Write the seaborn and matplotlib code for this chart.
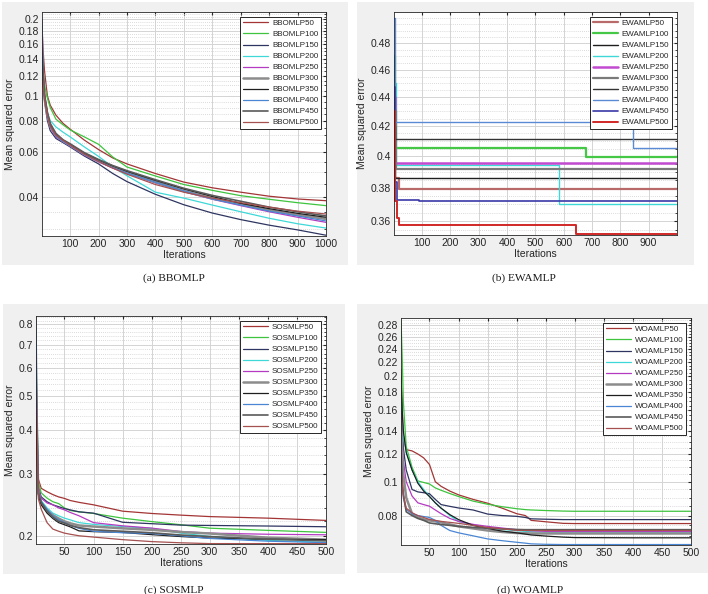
import matplotlib
matplotlib.use('Agg')
import matplotlib.pyplot as plt
from matplotlib.patches import Rectangle
from matplotlib.ticker import FixedLocator, NullFormatter, FuncFormatter
import seaborn as sns

sns.set_style('white')
plt.rcParams['font.family'] = ['Liberation Sans', 'DejaVu Sans']

sizes = [50, 100, 150, 200, 250, 300, 350, 400, 450, 500]

# (a) BBOMLP
bbo_x = [1, 5, 10, 20, 30, 50, 75, 100, 150, 200, 250, 300, 400, 500, 600, 700, 800, 900, 1000]
bbo_50 = [0.190, 0.150, 0.125, 0.100, 0.092, 0.084, 0.078, 0.0740, 0.0670, 0.0615, 0.0570, 0.0540, 0.0495, 0.0458, 0.0435, 0.0418, 0.0403, 0.0393, 0.0387]
bbo_100 = [0.140, 0.125, 0.110, 0.098, 0.090, 0.081, 0.077, 0.0735, 0.0690, 0.0645, 0.0575, 0.0525, 0.0484, 0.0448, 0.0425, 0.0405, 0.0392, 0.0380, 0.0370]
bbo_150 = [0.145, 0.115, 0.095, 0.080, 0.073, 0.068, 0.0655, 0.0630, 0.0580, 0.0540, 0.0495, 0.0460, 0.0410, 0.0373, 0.0346, 0.0326, 0.0310, 0.0297, 0.0283]
bbo_200 = [0.140, 0.118, 0.100, 0.086, 0.080, 0.0755, 0.072, 0.0690, 0.0630, 0.0578, 0.0525, 0.0485, 0.0418, 0.0396, 0.0372, 0.0350, 0.0330, 0.0314, 0.0302]
bbo_250 = [0.130, 0.112, 0.097, 0.083, 0.075, 0.0690, 0.0660, 0.0635, 0.0585, 0.0550, 0.0520, 0.0495, 0.0455, 0.0420, 0.0392, 0.0370, 0.0350, 0.0333, 0.0318]
bbo_300 = [0.150, 0.118, 0.098, 0.084, 0.076, 0.0700, 0.0665, 0.0640, 0.0590, 0.0555, 0.0525, 0.0500, 0.0458, 0.0422, 0.0395, 0.0375, 0.0355, 0.0340, 0.0328]
bbo_350 = [0.160, 0.120, 0.100, 0.085, 0.077, 0.0705, 0.0670, 0.0645, 0.0595, 0.0560, 0.0530, 0.0505, 0.0465, 0.0430, 0.0402, 0.0378, 0.0360, 0.0345, 0.0333]
bbo_400 = [0.200, 0.125, 0.100, 0.084, 0.076, 0.0695, 0.0662, 0.0638, 0.0588, 0.0553, 0.0522, 0.0497, 0.0457, 0.0423, 0.0393, 0.0372, 0.0352, 0.0337, 0.0322]
bbo_450 = [0.150, 0.122, 0.101, 0.086, 0.078, 0.0712, 0.0672, 0.0648, 0.0598, 0.0562, 0.0532, 0.0508, 0.0468, 0.0433, 0.0406, 0.0385, 0.0365, 0.0350, 0.0337]
bbo_500 = [0.120, 0.110, 0.098, 0.084, 0.076, 0.0700, 0.0668, 0.0640, 0.0590, 0.0552, 0.0520, 0.0492, 0.0448, 0.0418, 0.0396, 0.0380, 0.0365, 0.0352, 0.0343]

# (b) EWAMLP, step curves: change points and levels
ewa_50_x, ewa_50 = [1, 5, 18, 1000], [0.430, 0.386, 0.3795, 0.3795]
ewa_100_x, ewa_100 = [1, 5, 680, 1000], [0.470, 0.4055, 0.3995, 0.3995]
ewa_150_x, ewa_150 = [1, 6, 1000], [0.425, 0.386, 0.386]
ewa_200_x, ewa_200 = [1, 8, 585, 1000], [0.450, 0.3945, 0.3705, 0.3705]
ewa_250_x, ewa_250 = [1, 4, 1000], [0.440, 0.3955, 0.3955]
ewa_300_x, ewa_300 = [1, 8, 1000], [0.430, 0.392, 0.392]
ewa_350_x, ewa_350 = [1, 4, 1000], [0.420, 0.411, 0.411]
ewa_400_x, ewa_400 = [1, 3, 845, 1000], [0.500, 0.4225, 0.4055, 0.4055]
ewa_450_x, ewa_450 = [1, 5, 10, 90, 1000], [0.447, 0.384, 0.3725, 0.3718, 0.3718]
ewa_500_x, ewa_500 = [1, 5, 10, 18, 645, 1000], [0.430, 0.372, 0.362, 0.358, 0.3526, 0.3526]

# (c) SOSMLP
sos_x = [1, 5, 10, 20, 30, 40, 50, 60, 75, 100, 150, 200, 250, 300, 400, 500]
sos_50 = [0.60, 0.290, 0.273, 0.267, 0.262, 0.258, 0.2555, 0.252, 0.249, 0.245, 0.235, 0.2315, 0.229, 0.2268, 0.2245, 0.2212]
sos_100 = [0.70, 0.285, 0.265, 0.256, 0.250, 0.247, 0.240, 0.236, 0.234, 0.2315, 0.2245, 0.2195, 0.2150, 0.2102, 0.2072, 0.2045]
sos_150 = [0.55, 0.275, 0.258, 0.250, 0.245, 0.242, 0.239, 0.237, 0.234, 0.232, 0.2185, 0.2165, 0.2145, 0.2140, 0.2132, 0.2122]
sos_200 = [0.50, 0.270, 0.252, 0.240, 0.232, 0.228, 0.2245, 0.222, 0.218, 0.2155, 0.2125, 0.2100, 0.2035, 0.1992, 0.1940, 0.1915]
sos_250 = [0.52, 0.272, 0.256, 0.248, 0.245, 0.240, 0.237, 0.233, 0.228, 0.218, 0.2135, 0.2103, 0.2057, 0.2035, 0.2020, 0.2013]
sos_300 = [0.45, 0.265, 0.248, 0.236, 0.229, 0.224, 0.2198, 0.217, 0.214, 0.2125, 0.2100, 0.2080, 0.2050, 0.2030, 0.1975, 0.1950]
sos_350 = [0.48, 0.262, 0.245, 0.232, 0.224, 0.218, 0.2150, 0.212, 0.2065, 0.2055, 0.2044, 0.2015, 0.1990, 0.1970, 0.1955, 0.1950]
sos_400 = [0.84, 0.268, 0.250, 0.238, 0.228, 0.222, 0.2180, 0.214, 0.210, 0.2060, 0.2040, 0.2030, 0.2000, 0.1965, 0.1930, 0.1912]
sos_450 = [0.46, 0.266, 0.249, 0.235, 0.226, 0.220, 0.2173, 0.214, 0.211, 0.2080, 0.2060, 0.2040, 0.2010, 0.1990, 0.1955, 0.1935]
sos_500 = [0.65, 0.255, 0.238, 0.218, 0.209, 0.206, 0.2035, 0.2020, 0.2000, 0.1983, 0.1950, 0.1925, 0.1910, 0.1900, 0.1900, 0.1900]

# (d) WOAMLP
woa_x = [1, 3, 5, 10, 20, 30, 40, 50, 60, 70, 85, 100, 125, 150, 175, 200, 215, 225, 250, 280, 300, 400, 500]
woa_50 = [0.210, 0.160, 0.135, 0.1235, 0.1225, 0.120, 0.117, 0.112, 0.100, 0.097, 0.094, 0.0917, 0.089, 0.0868, 0.0840, 0.0810, 0.0800, 0.0775, 0.0768, 0.0760, 0.0759, 0.0759, 0.0759]
woa_100 = [0.290, 0.230, 0.170, 0.126, 0.110, 0.1005, 0.0995, 0.0985, 0.096, 0.0945, 0.0925, 0.0907, 0.0880, 0.0862, 0.0848, 0.0837, 0.0832, 0.0830, 0.0827, 0.0824, 0.0823, 0.0823, 0.0823]
woa_150 = [0.190, 0.150, 0.125, 0.108, 0.095, 0.0935, 0.0930, 0.0924, 0.0890, 0.0860, 0.0850, 0.0841, 0.0830, 0.0808, 0.0800, 0.0796, 0.0790, 0.0783, 0.0781, 0.0779, 0.0779, 0.0779, 0.0779]
woa_200 = [0.190, 0.150, 0.135, 0.122, 0.108, 0.100, 0.095, 0.0907, 0.0870, 0.0840, 0.0800, 0.0770, 0.0750, 0.0737, 0.0730, 0.0724, 0.0721, 0.0719, 0.0717, 0.0717, 0.0717, 0.0717, 0.0717]
woa_250 = [0.160, 0.130, 0.115, 0.100, 0.091, 0.0870, 0.0860, 0.0851, 0.0830, 0.0810, 0.0785, 0.0770, 0.0755, 0.0745, 0.0737, 0.0729, 0.0726, 0.0724, 0.0721, 0.0721, 0.0721, 0.0721, 0.0721]
woa_300 = [0.150, 0.120, 0.105, 0.090, 0.081, 0.0790, 0.0780, 0.0775, 0.0770, 0.0765, 0.0755, 0.0745, 0.0735, 0.0725, 0.0718, 0.0713, 0.0712, 0.0711, 0.0711, 0.0711, 0.0711, 0.0711, 0.0711]
woa_350 = [0.200, 0.160, 0.140, 0.121, 0.108, 0.099, 0.094, 0.0907, 0.0870, 0.0840, 0.0805, 0.0779, 0.0750, 0.0735, 0.0722, 0.0714, 0.0708, 0.0704, 0.0699, 0.0694, 0.0692, 0.0691, 0.0691]
woa_400 = [0.120, 0.100, 0.090, 0.0832, 0.0810, 0.0800, 0.0795, 0.0790, 0.0775, 0.0750, 0.0725, 0.0714, 0.0700, 0.0686, 0.0678, 0.0671, 0.0667, 0.0664, 0.0662, 0.0661, 0.0661, 0.0661, 0.0661]
woa_450 = [0.120, 0.100, 0.092, 0.0820, 0.0800, 0.0785, 0.0775, 0.0762, 0.0758, 0.0754, 0.0750, 0.0745, 0.0740, 0.0736, 0.0733, 0.0730, 0.0729, 0.0729, 0.0729, 0.0729, 0.0729, 0.0729, 0.0729]
woa_500 = [0.110, 0.100, 0.092, 0.0840, 0.0815, 0.0800, 0.0790, 0.0780, 0.0775, 0.0770, 0.0765, 0.0760, 0.0750, 0.0740, 0.0733, 0.0726, 0.0725, 0.0725, 0.0725, 0.0725, 0.0725, 0.0725, 0.0725]

colors = ['#a33535', '#3ec43e', '#2e3560', '#3fd8d8', '#b53ac2', '#8c8c8c', '#1e1e1e', '#4a86d4', '#5a5a5a', '#a65050']
widths = [0.9, 0.9, 0.9, 0.9, 0.9, 1.8, 0.9, 0.9, 1.2, 0.9]
colors_b = ['#b86a6a', '#45c845', '#1e1e1e', '#3fd8d8', '#c24ad0', '#7a7a7a', '#333333', '#5a8ad4', '#3a3aa8', '#d02828']
widths_b = [1.6, 1.6, 1.0, 1.0, 1.8, 1.6, 1.0, 1.0, 1.2, 1.4]

W, H = 708, 594
fig = plt.figure(figsize=(W / 100, H / 100), dpi=100)
fig.patch.set_facecolor('white')


def px_axes(l, t, r, b):
    return fig.add_axes([l / W, 1 - b / H, (r - l) / W, (b - t) / H])


for (l, t, r, b) in [(2, 2, 348, 265), (357, 2, 694, 265), (3, 304, 345, 574), (357, 304, 708, 573)]:
    fig.patches.append(Rectangle((l / W, 1 - b / H), (r - l) / W, (b - t) / H,
                                 transform=fig.transFigure, facecolor='#f0f0f0',
                                 edgecolor='none', zorder=-5))

ax_a = px_axes(42, 12, 326, 236)
ax_b = px_axes(394, 12, 677, 235)
ax_c = px_axes(36, 316, 326, 544)
ax_d = px_axes(401, 318, 691, 545)


def style(ax, xmax, xticks, ylim, yticks, yminor):
    ax.set_yscale('log')
    ax.set_facecolor('white')
    ax.set_xlim(1, xmax)
    ax.set_ylim(*ylim)
    ax.xaxis.set_major_locator(FixedLocator(xticks))
    ax.xaxis.set_minor_locator(FixedLocator([]))
    ax.yaxis.set_major_locator(FixedLocator(yticks))
    ax.yaxis.set_minor_locator(FixedLocator(yminor))
    ax.yaxis.set_major_formatter(FuncFormatter(lambda v, p: f'{v:g}'))
    ax.yaxis.set_minor_formatter(NullFormatter())
    ax.grid(True, which='major', color='#d4d4d4', lw=0.7, ls='-')
    ax.grid(True, which='minor', axis='y', color='#cfcfcf', lw=0.6, ls=(0, (1, 1.5)))
    ax.set_axisbelow(True)
    ax.tick_params(which='both', direction='in', length=2.5, top=True, right=True,
                   labelsize=7.5, colors='#262626', pad=2)
    ax.tick_params(which='minor', length=1.5)
    for s in ax.spines.values():
        s.set_color('#262626')
        s.set_linewidth(0.6)
    ax.set_xlabel('Iterations', fontsize=7.5, color='#262626', labelpad=1)
    ax.set_ylabel('Mean squared error', fontsize=7.5, color='#262626', labelpad=3)
    ax.legend(loc='upper right', fontsize=5.8, frameon=True, fancybox=False,
              edgecolor='#262626', framealpha=1, labelspacing=0.42,
              handlelength=3.1, handletextpad=0.5, borderpad=0.35,
              borderaxespad=0.6).get_frame().set_linewidth(0.7)


def minor(lo, hi, step):
    n = int(round((hi - lo) / step))
    return [round(lo + i * step, 4) for i in range(n + 1)]


series_a = [bbo_50, bbo_100, bbo_150, bbo_200, bbo_250, bbo_300, bbo_350, bbo_400, bbo_450, bbo_500]
for n, ys, c, w in zip(sizes, series_a, colors, widths):
    sns.lineplot(x=bbo_x, y=ys, ax=ax_a, color=c, lw=w, label=f'BBOMLP{n}')
style(ax_a, 1000, list(range(100, 1001, 100)), (0.0281, 0.214),
      [0.04, 0.06, 0.08, 0.1, 0.12, 0.14, 0.16, 0.18, 0.2], minor(0.03, 0.21, 0.005))

series_b = [(ewa_50_x, ewa_50), (ewa_100_x, ewa_100), (ewa_150_x, ewa_150), (ewa_200_x, ewa_200),
            (ewa_250_x, ewa_250), (ewa_300_x, ewa_300), (ewa_350_x, ewa_350), (ewa_400_x, ewa_400),
            (ewa_450_x, ewa_450), (ewa_500_x, ewa_500)]
for n, (xs, ys), c, w in zip(sizes, series_b, colors_b, widths_b):
    sns.lineplot(x=xs, y=ys, ax=ax_b, color=c, lw=w, label=f'EWAMLP{n}', drawstyle='steps-post')
style(ax_b, 1000, list(range(100, 901, 100)), (0.3522, 0.505),
      [0.36, 0.38, 0.4, 0.42, 0.44, 0.46, 0.48], minor(0.355, 0.505, 0.005))

series_c = [sos_50, sos_100, sos_150, sos_200, sos_250, sos_300, sos_350, sos_400, sos_450, sos_500]
for n, ys, c, w in zip(sizes, series_c, colors, widths):
    sns.lineplot(x=sos_x, y=ys, ax=ax_c, color=c, lw=w, label=f'SOSMLP{n}')
style(ax_c, 500, list(range(50, 501, 50)), (0.1895, 0.845),
      [0.2, 0.3, 0.4, 0.5, 0.6, 0.7, 0.8], minor(0.2, 0.84, 0.02))

series_d = [woa_50, woa_100, woa_150, woa_200, woa_250, woa_300, woa_350, woa_400, woa_450, woa_500]
for n, ys, c, w in zip(sizes, series_d, colors, widths):
    sns.lineplot(x=woa_x, y=ys, ax=ax_d, color=c, lw=w, label=f'WOAMLP{n}')
style(ax_d, 500, list(range(50, 501, 50)), (0.0659, 0.294),
      [0.08, 0.1, 0.12, 0.14, 0.16, 0.18, 0.2, 0.22, 0.24, 0.26, 0.28], minor(0.07, 0.29, 0.005))

captions = [('(a) BBOMLP', 174, 278), ('(b) EWAMLP', 524, 278),
            ('(c) SOSMLP', 174, 590), ('(d) WOAMLP', 530, 590)]
for txt, cx, cy in captions:
    fig.text(cx / W, 1 - cy / H, txt, ha='center', va='center', fontsize=8.2,
             family=['Liberation Serif', 'DejaVu Serif'], color='#1a1a1a')

fig.savefig('out.png', dpi=100, facecolor='white')
